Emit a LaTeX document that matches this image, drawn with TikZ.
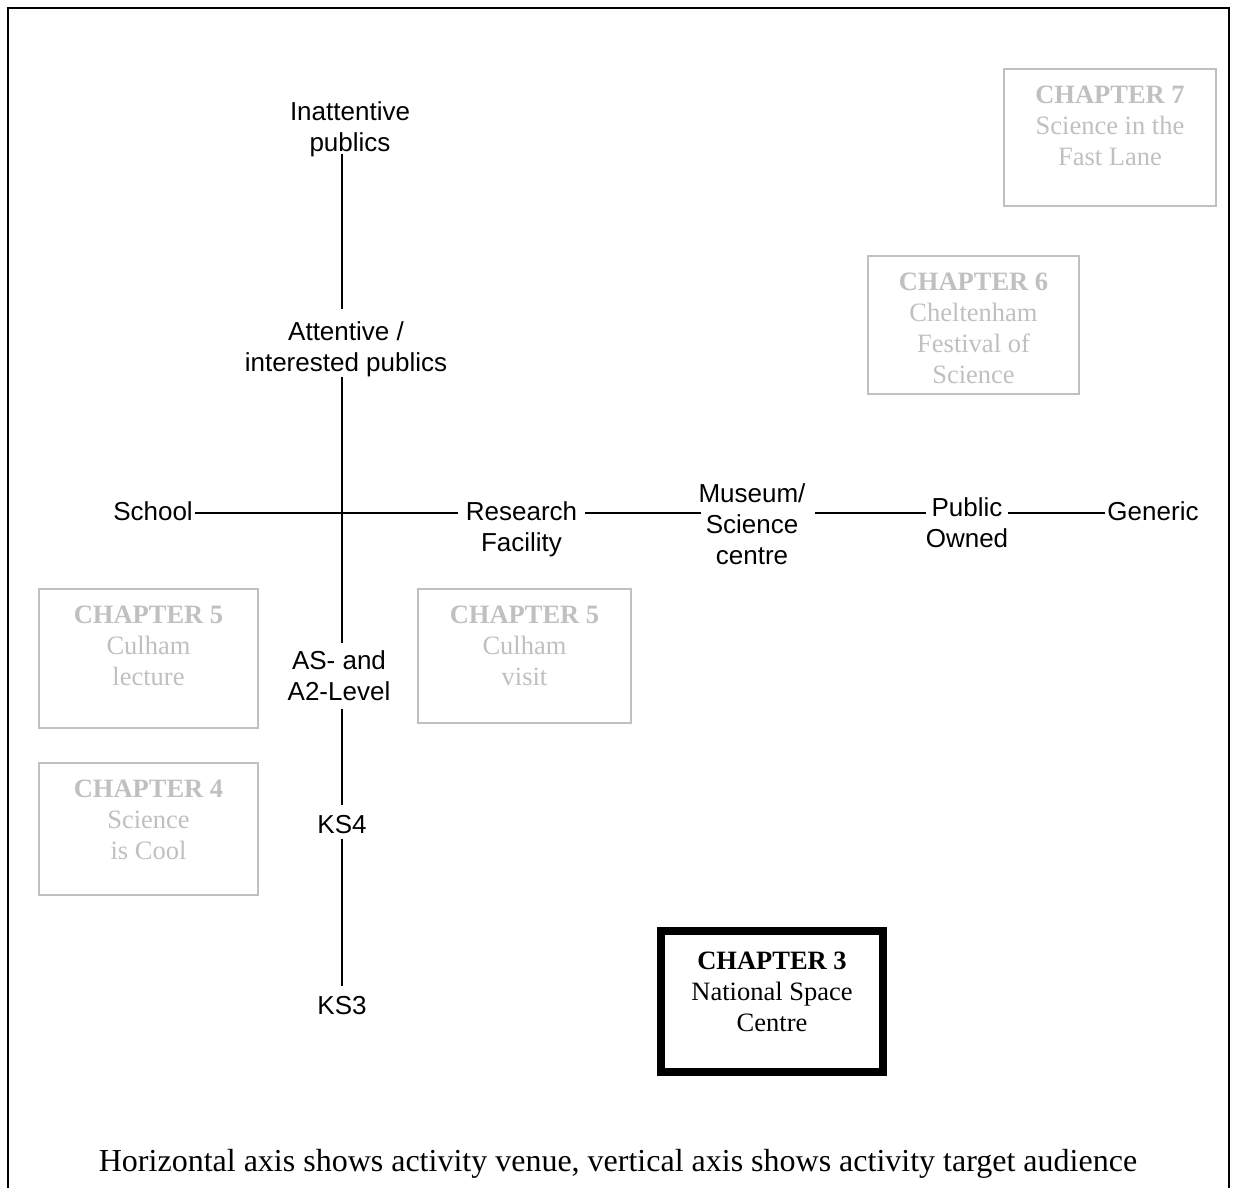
\documentclass[tikz,border=0pt]{standalone}
\usepackage{fontspec}
\setmainfont{Liberation Serif}
\newfontfamily\arialfont{Liberation Sans}
\definecolor{chapgray}{RGB}{192,192,192}
\newcommand\chapbody[4]{\parbox[c][#2][t]{#1}{\centering\vspace*{#3}#4}}
\begin{document}
\begin{tikzpicture}[x=1pt,y=-1pt,
  lbl/.style={font=\arialfont\fontsize{26}{31}\selectfont, inner sep=0pt, align=center},
  axisline/.style={line width=1.7pt, draw=black},
  chap/.style={draw=chapgray, line width=2pt, inner sep=0pt, text=chapgray, font=\fontsize{26.5}{31}\selectfont},
  chapmain/.style={draw=black, line width=8pt, inner sep=0pt, text=black, font=\fontsize{26.5}{31}\selectfont},
  frameline/.style={line width=2pt, draw=black}]
\useasboundingbox (0,0) rectangle (1236,1187);
\fill[white] (0,0) rectangle (1236,1187);
\draw[frameline] (8,1190) -- (8,8) -- (1229,8) -- (1229,1190);

% axis labels
\node[lbl, anchor=north] (inat) at (350,101.4) {Inattentive\\publics};
\node[lbl, anchor=north] (att) at (346,321.5) {Attentive /\\interested publics};
\node[lbl, anchor=north] (as) at (339,650) {AS- and\\A2-Level};
\node[lbl, anchor=base] (ks4) at (342,833) {KS4};
\node[lbl, anchor=base] (ks3) at (342,1014) {KS3};
\node[lbl, anchor=base] (school) at (153,520) {School};
\node[lbl, anchor=north] (research) at (521.5,501.4) {Research\\Facility};
\node[lbl, anchor=north] (museum) at (752,483.4) {Museum/\\Science\\centre};
\node[lbl, anchor=north] (public) at (967,497.4) {Public\\Owned};
\node[lbl, anchor=base] (generic) at (1153,520) {Generic};

\coordinate (ax) at (342,513);
% vertical axis
\draw[axisline, shorten <=-3.5pt, shorten >=12.5pt] (ax |- inat.south) -- (ax |- att.north);
\draw[axisline, shorten >=7pt] (ax |- att.south) -- (ax |- as.north);
\draw[axisline, shorten <=8pt, shorten >=10pt] (ax |- as.south) -- (ax |- ks4.north);
\draw[axisline, shorten <=6pt, shorten >=9.5pt] (ax |- ks4.south) -- (ax |- ks3.north);
% horizontal axis
\draw[axisline, shorten <=2pt, shorten >=8pt] (school.east |- ax) -- (research.west |- ax);
\draw[axisline, shorten <=8pt, shorten >=-3pt] (research.east |- ax) -- (museum.west |- ax);
\draw[axisline, shorten <=9pt] (museum.east |- ax) -- (public.west |- ax);
\draw[axisline, shorten >=2pt] (public.east |- ax) -- (generic.west |- ax);

% chapter boxes
\node[chap] (c7) at (1110,137.5) {\chapbody{212pt}{137pt}{16.6pt}{\textbf{CHAPTER 7}\\Science in the\\Fast Lane}};
\node[chap] (c6) at (973.5,325) {\chapbody{211pt}{138pt}{16.6pt}{\textbf{CHAPTER 6}\\Cheltenham\\Festival of\\Science}};
\node[chap] (c5l) at (148.5,658.5) {\chapbody{219pt}{139pt}{16.6pt}{\textbf{CHAPTER 5}\\Culham\\lecture}};
\node[chap] (c5v) at (524.5,656) {\chapbody{213pt}{134pt}{16.6pt}{\textbf{CHAPTER 5}\\Culham\\visit}};
\node[chap] (c4) at (148.5,829) {\chapbody{219pt}{132pt}{16.6pt}{\textbf{CHAPTER 4}\\Science\\is Cool}};
\node[chapmain] (c3) at (772,1001.5) {\chapbody{222pt}{141pt}{20.6pt}{\textbf{CHAPTER 3}\\National Space\\Centre}};

% caption
\node[font=\fontsize{32}{38}\selectfont, inner sep=0pt, anchor=base] (caption) at (618,1171) {Horizontal axis shows activity venue, vertical axis shows activity target audience};
\end{tikzpicture}
\end{document}
